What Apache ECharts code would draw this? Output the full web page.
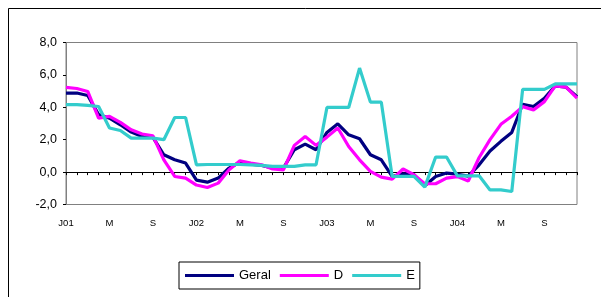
<!DOCTYPE html>
<html>
<head>
<meta charset="utf-8">
<script src="https://cdn.jsdelivr.net/npm/echarts@6/dist/echarts.min.js"></script>
<style>
html,body{margin:0;padding:0;background:#fff;}
#c{width:601px;height:297px;}
</style>
</head>
<body>
<div id="c"></div>
<script>
// Monthly categories Jan 2001 .. Dec 2004
const monthLetters = ['J','F','M','A','M','J','J','A','S','O','N','D'];
const years = ['01','02','03','04'];
const categories = [];
years.forEach(y => monthLetters.forEach((m, i) => categories.push(i === 0 ? m + y : m)));

const geral = [4.88, 4.88, 4.73, 3.55, 3.33, 2.92, 2.47, 2.2, 2.14, 1.07, 0.76, 0.56,
               -0.5, -0.62, -0.37, 0.25, 0.62, 0.49, 0.41, 0.25, 0.25, 1.38, 1.73, 1.38,
               2.45, 2.98, 2.3, 2.06, 1.07, 0.76, -0.27, -0.1, -0.16, -0.84, -0.27, -0.06,
               -0.13, -0.25, 0.45, 1.3, 1.9, 2.45, 4.19, 4.05, 4.56, 5.32, 5.24, 4.66];
const dSeries = [5.23, 5.16, 4.98, 3.33, 3.44, 3.07, 2.61, 2.35, 2.24, 0.76, -0.27, -0.37,
                 -0.8, -0.95, -0.68, 0.14, 0.7, 0.56, 0.45, 0.19, 0.14, 1.65, 2.2, 1.65,
                 2.16, 2.72, 1.58, 0.76, 0.04, -0.31, -0.43, 0.19, -0.16, -0.72, -0.72, -0.37,
                 -0.28, -0.55, 0.9, 2.0, 2.95, 3.45, 4.04, 3.84, 4.35, 5.32, 5.24, 4.56];
const eSeries = [4.16, 4.16, 4.12, 4.05, 2.72, 2.57, 2.1, 2.1, 2.1, 2.0, 3.37, 3.37,
                 0.44, 0.47, 0.47, 0.47, 0.47, 0.45, 0.41, 0.35, 0.35, 0.35, 0.45, 0.45,
                 3.99, 3.99, 3.99, 6.42, 4.32, 4.32, -0.27, -0.27, -0.27, -0.93, 0.93, 0.93,
                 -0.23, -0.23, -0.23, -1.1, -1.1, -1.2, 5.11, 5.11, 5.11, 5.44, 5.44, 5.44];
const seriesNames = ['Geral', 'D', 'E'];
const yTicks = {min: -2, max: 8, interval: 2};

const FONT = '"Liberation Sans", Arial, sans-serif';
const chart = echarts.init(document.getElementById('c'), null, {renderer: 'canvas'});
chart.setOption({
  animation: false,
  backgroundColor: '#fff',
  graphic: [{
    type: 'rect', silent: true, z: -1,
    shape: {x: 8.5, y: 8.5, width: 700, height: 400},
    style: {fill: 'none', stroke: '#000', lineWidth: 1}
  }],
  grid: {left: 66, right: 24, top: 42.5, bottom: 92.5, show: true,
         borderColor: '#808080', borderWidth: 1, backgroundColor: 'transparent'},
  legend: {
    left: 179, top: 262,
    data: seriesNames,
    icon: 'rect', itemWidth: 49, itemHeight: 3, itemGap: 9,
    padding: [7, 5, 7, 6],
    borderColor: '#000', borderWidth: 1,
    textStyle: {fontFamily: FONT, fontSize: 13, color: '#000'}
  },
  xAxis: {
    type: 'category', data: categories, boundaryGap: false,
    axisLine: {onZero: true, lineStyle: {color: '#000', width: 1}},
    axisTick: {show: true, interval: 0, length: 3, lineStyle: {color: '#000'}},
    axisLabel: {interval: 3, margin: 14, fontFamily: FONT, fontSize: 9.5, color: '#000'},
    splitLine: {show: false}
  },
  yAxis: {
    type: 'value', min: yTicks.min, max: yTicks.max, interval: yTicks.interval,
    axisLine: {show: true, lineStyle: {color: '#808080'}},
    axisTick: {show: true, length: 3, lineStyle: {color: '#000'}},
    axisLabel: {margin: 9, fontFamily: FONT, fontSize: 12.5, color: '#000',
                formatter: v => v.toFixed(1).replace('.', ',')},
    splitLine: {show: false}
  },
  series: [
    {name: 'Geral', type: 'line', data: geral, showSymbol: false, symbol: 'none',
     lineStyle: {color: '#000080', width: 3.2}, itemStyle: {color: '#000080'}},
    {name: 'D', type: 'line', data: dSeries, showSymbol: false, symbol: 'none',
     lineStyle: {color: '#FF00FF', width: 3.2}, itemStyle: {color: '#FF00FF'}},
    {name: 'E', type: 'line', data: eSeries, showSymbol: false, symbol: 'none',
     lineStyle: {color: '#33CCCC', width: 3.2}, itemStyle: {color: '#33CCCC'}}
  ]
});
</script>
</body>
</html>
